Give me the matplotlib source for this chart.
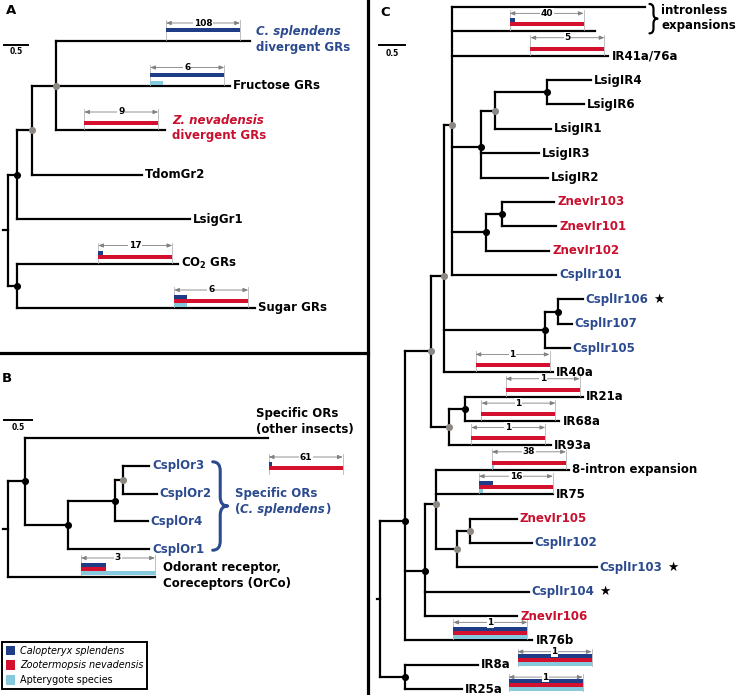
import matplotlib
matplotlib.use("Agg")
import matplotlib.pyplot as plt
from matplotlib.collections import LineCollection
from matplotlib.lines import Line2D
from matplotlib.patches import Patch, PathPatch
from matplotlib.path import Path

# colours
SP_BLUE = "#1f3d87"
SP_RED = "#d3102d"
SP_CYAN = "#86c8dc"
TXT_BLUE = "#2b4a8f"
TXT_RED = "#c9102f"
NODE_GREY = "#8d8782"

species = ["Calopteryx splendens", "Zootermopsis nevadensis", "Apterygote species"]
species_colours = [SP_BLUE, SP_RED, SP_CYAN]

# ---------------- data ----------------
# trees: (name, branch length, [children]) ; leaves: (name, branch length)
tree_a = ("root", 0.10, [
    ("n1", 0.17, [
        ("n2", 0.29, [
            ("n3", 0.46, [
                ("cspl_div", 3.73),
                ("fructose", 3.35),
                ("znev_div", 2.10)]),
            ("TdomGr2", 2.12)]),
        ("LsigGr1", 3.33)]),
    ("n4", 0.17, [
        ("co2", 3.10),
        ("sugar", 4.58)])])

tree_b = ("root", 0.08, [
    ("b1", 0.28, [
        ("other", 3.98),
        ("b2", 0.70, [
            ("b3", 0.77, [
                ("b4", 0.13, [("CsplOr3", 0.44), ("CsplOr2", 0.56)]),
                ("CsplOr4", 0.54)]),
            ("CsplOr1", 1.34)])]),
    ("OrCo", 2.41)])

tree_c = ("root", 0.05, [
    ("ca", 0.45, [
        ("r", 0.47, [
            ("q", 0.235, [
                ("p", 0.16, [
                    ("intronless1", 3.49),
                    ("intronless2", 2.57),
                    ("IR41a/76a", 2.82),
                    ("l1", 0.52, [
                        ("l2", 0.25, [
                            ("l3", 0.94, [("LsigIR4", 0.80), ("LsigIR6", 0.67)]),
                            ("LsigIR1", 1.01)]),
                        ("LsigIR3", 1.05),
                        ("LsigIR2", 1.21)]),
                    ("z1", 0.61, [
                        ("z2", 0.29, [("ZnevIr103", 0.94), ("ZnevIr101", 0.98)]),
                        ("ZnevIr102", 1.14)]),
                    ("CsplIr101", 1.88)]),
                ("c1", 1.83, [
                    ("c2", 0.235, [("CsplIr106", 0.45), ("CsplIr107", 0.25)]),
                    ("CsplIr105", 0.45)]),
                ("IR40a", 1.97)]),
            ("s1", 0.34, [
                ("s2", 0.29, [("IR21a", 2.12), ("IR68a", 1.70)]),
                ("IR93a", 1.84)])]),
        ("t0", 0.36, [
            ("t1", 0.20, [
                ("8-intron", 2.41),
                ("IR75", 2.12),
                ("t2", 0.38, [
                    ("t3", 0.235, [("ZnevIr105", 0.85), ("CsplIr102", 1.12)]),
                    ("CsplIr103", 2.53)])]),
            ("CsplIr104", 1.88),
            ("ZnevIr106", 1.68)]),
        ("IR76b", 2.31)]),
    ("d", 0.45, [("IR8a", 1.32), ("IR25a", 1.03)])])

# node support dots: k = black, g = grey
dots_a = {"n1": "k", "n2": "g", "n3": "g", "n4": "k"}
dots_b = {"b1": "k", "b2": "k", "b3": "k", "b4": "g"}
dots_c = {"p": "g", "l1": "k", "l2": "g", "l3": "k", "z1": "k", "z2": "k",
          "c1": "k", "c2": "k", "q": "g", "r": "g", "s1": "g", "s2": "k",
          "t0": "k", "t1": "g", "t2": "g", "t3": "g", "ca": "k", "d": "k"}

labels_a = {"fructose": "Fructose GRs", "TdomGr2": "TdomGr2", "LsigGr1": "LsigGr1",
            "co2": r"CO$_\mathbf{2}$ GRs", "sugar": "Sugar GRs"}
labels_b = {"CsplOr3": "CsplOr3", "CsplOr2": "CsplOr2", "CsplOr4": "CsplOr4",
            "CsplOr1": "CsplOr1"}
labels_c = {n: n for n in ["IR41a/76a", "LsigIR4", "LsigIR6", "LsigIR1", "LsigIR3",
                           "LsigIR2", "ZnevIr103", "ZnevIr101", "ZnevIr102", "CsplIr101",
                           "CsplIr106", "CsplIr107", "CsplIr105", "IR40a", "IR21a",
                           "IR68a", "IR93a", "IR75", "ZnevIr105", "CsplIr102",
                           "CsplIr103", "CsplIr104", "ZnevIr106", "IR76b", "IR8a", "IR25a"]}
labels_c["8-intron"] = "8-intron expansion"
star_leaves = ["CsplIr106", "CsplIr103", "CsplIr104"]

# gene counts per species (C. splendens, Z. nevadensis, apterygotes)
bar_leaves_a = ["cspl_div", "fructose", "znev_div", "co2", "sugar"]
bar_counts_a = [(108, 0, 0), (6, 0, 1), (0, 9, 0), (1, 17, 0), (1, 6, 1)]
bar_leaves_b = ["other", "OrCo"]
bar_counts_b = [(3, 61, 0), (1, 1, 3)]
bar_leaves_c = ["intronless2", "IR41a/76a", "IR40a", "IR21a", "IR68a", "IR93a",
                "8-intron", "IR75", "IR76b", "IR8a", "IR25a"]
bar_counts_c = [(3, 40, 0), (0, 5, 0), (0, 1, 0), (0, 1, 0), (0, 1, 0), (0, 1, 0),
                (0, 38, 1), (3, 16, 1), (1, 1, 1), (1, 1, 1), (1, 1, 1)]

# layout of the bars (pixel shift of the right end from the tip, vertical shift,
# gap between the bars and the dimension line)
bar_shift_a = [(-10, 0, 18), (-6, 0, 18), (-7, 0, 18), (-6, 0, 18), (-7, 0, 18)]
bar_shift_b = [(75, 37, 18), (0, -1, 18)]
bar_shift_c = [(-11, 0, 18), (-4, 0, 18), (-3, 0, 18), (-3, 0, 18), (-4, 0, 18),
               (-6, 0, 18), (-3, 0, 18), (0, 0, 18), (-5, 0, 18), (114, 2, 15),
               (121, 3, 15)]

# ---------------- drawing ----------------
W, H = 738, 695
fig = plt.figure(figsize=(W / 100, H / 100), dpi=100)
BAR_PX = 74


def walk(node, x0, leaves, segs, pos):
    name, bl = node[0], node[1]
    x = x0 + bl
    if len(node) == 2:
        y = float(len(leaves))
        leaves.append(name)
    else:
        ys = [walk(c, x, leaves, segs, pos) for c in node[2]]
        y = sum(ys) / len(ys)
        segs.append([(x, ys[0]), (x, ys[-1])])
    segs.append([(x0, y), (x, y)])
    pos[name] = (x, y)
    return y


def make_panel(box, sx, sy, root_px, y0_px, tree, dots):
    x0, y0, x1, y1 = box
    ax = fig.add_axes([x0 / W, 1 - y1 / H, (x1 - x0) / W, (y1 - y0) / H])
    ax.set_xlim((x0 - root_px) / sx, (x1 - root_px) / sx)
    ax.set_ylim((y1 - y0_px) / sy, (y0 - y0_px) / sy)
    ax.axis("off")
    leaves, segs, pos = [], [], {}
    walk(tree, 0.0, leaves, segs, pos)
    ax.add_collection(LineCollection(segs, colors="black", linewidths=1.6,
                                     capstyle="projecting"))
    for name, c in dots.items():
        ax.scatter([pos[name][0]], [pos[name][1]], s=26, zorder=4, linewidths=0,
                   color="black" if c == "k" else NODE_GREY)
    ax.sx, ax.sy = sx, sy
    return ax, pos


def at(ax, p, dx=0, dy=0):
    return p[0] + dx / ax.sx, p[1] + dy / ax.sy


def leaf_colour(name):
    if name.startswith("Znev"):
        return TXT_RED
    if name.startswith("Cspl"):
        return TXT_BLUE
    return "black"


def put_labels(ax, pos, labels, fs=8.5):
    arts = {}
    for leaf, txt in labels.items():
        x, y = at(ax, pos[leaf], 3)
        arts[leaf] = ax.text(x, y, txt, ha="left", va="center", fontsize=fs,
                             fontweight="bold", color=leaf_colour(leaf))
    return arts


def count_bars(ax, pos, leaves, counts, shifts):
    for leaf, cnt, (dx, dy, gap) in zip(leaves, counts, shifts):
        right, yb = at(ax, pos[leaf], dx, dy)
        width = BAR_PX / ax.sx
        left = right - width
        n = max(cnt)
        for c, col, off in zip(cnt, species_colours, (-11, -7, -3)):
            if c:
                ax.barh(yb + off / ax.sy, width * c / n, left=left, height=4 / ax.sy,
                        color=col, linewidth=0, zorder=3)
        yl = yb - gap / ax.sy
        for xe in (left, right):
            ax.plot([xe, xe], [yl - 3 / ax.sy, yb - 1 / ax.sy], color="#b4b4b4",
                    lw=0.6, zorder=2)
        ax.annotate("", xy=(right, yl), xytext=(left, yl),
                    arrowprops=dict(arrowstyle="<|-|>,head_length=0.3,head_width=0.12",
                                    color="#808080", lw=0.6, shrinkA=0, shrinkB=0))
        ax.text((left + right) / 2, yl, str(n), ha="center", va="center",
                fontsize=6.5, fontweight="bold",
                bbox=dict(facecolor="white", edgecolor="none", pad=0.5))


def brace(ax, x, ya, yb, w, r, colour, lw):
    ym = (ya + yb) / 2
    xm = x + w / 2
    verts = [(x, ya), (xm, ya), (xm, ya + r), (xm, ym - r), (xm, ym), (x + w, ym),
             (xm, ym), (xm, ym + r), (xm, yb - r), (xm, yb), (x, yb)]
    codes = [Path.MOVETO, Path.CURVE3, Path.CURVE3, Path.LINETO, Path.CURVE3,
             Path.CURVE3, Path.CURVE3, Path.CURVE3, Path.LINETO, Path.CURVE3, Path.CURVE3]
    ax.add_patch(PathPatch(Path(verts, codes), fill=False, edgecolor=colour, lw=lw,
                           capstyle="round", joinstyle="round"))


def scale_bar(ax, x0, y, dy_text):
    ax.plot([x0, x0 + 0.5], [y, y], color="black", lw=1.4, solid_capstyle="butt")
    ax.text(x0 + 0.25, y + dy_text / ax.sy, "0.5", ha="center", va="center",
            fontsize=5.5, fontweight="bold")


# ----- panel A -----
ax_a, pos_a = make_panel((0, 0, 369, 353), 52.0, 44.5, 3, 41, tree_a, dots_a)
put_labels(ax_a, pos_a, labels_a)
count_bars(ax_a, pos_a, bar_leaves_a, bar_counts_a, bar_shift_a)
ax_a.text(*at(ax_a, pos_a["cspl_div"], 6, -9), "C. splendens", style="italic",
          fontweight="bold", color=TXT_BLUE, fontsize=8.5, va="center")
ax_a.text(*at(ax_a, pos_a["cspl_div"], 6, 6), "divergent GRs",
          fontweight="bold", color=TXT_BLUE, fontsize=8.5, va="center")
ax_a.text(*at(ax_a, pos_a["znev_div"], 7, -9), "Z. nevadensis", style="italic",
          fontweight="bold", color=TXT_RED, fontsize=8.5, va="center")
ax_a.text(*at(ax_a, pos_a["znev_div"], 7, 6), "divergent GRs",
          fontweight="bold", color=TXT_RED, fontsize=8.5, va="center")
scale_bar(ax_a, 0.0, 4 / 44.5, 7)

# ----- panel B -----
ax_b, pos_b = make_panel((0, 353, 369, 695), 61.0, 27.8, 3, 438, tree_b, dots_b)
put_labels(ax_b, pos_b, labels_b)
count_bars(ax_b, pos_b, bar_leaves_b, bar_counts_b, bar_shift_b)
ax_b.text(*at(ax_b, pos_b["other"], -12, -24), "Specific ORs",
          fontweight="bold", fontsize=8.5, va="center")
ax_b.text(*at(ax_b, pos_b["other"], -12, -9), "(other insects)",
          fontweight="bold", fontsize=8.5, va="center")
ax_b.text(*at(ax_b, pos_b["OrCo"], 8, -9), "Odorant receptor,",
          fontweight="bold", fontsize=8.5, va="center")
ax_b.text(*at(ax_b, pos_b["OrCo"], 8, 7), "Coreceptors (OrCo)",
          fontweight="bold", fontsize=8.5, va="center")
bx, by_top = at(ax_b, pos_b["CsplOr2"], 56, 0)
brace(ax_b, bx, pos_b["CsplOr3"][1] - 4 / 27.8, pos_b["CsplOr1"][1] + 1 / 27.8,
      15 / 61.0, 9 / 27.8, TXT_BLUE, 2.2)
sx_, sy_ = at(ax_b, (bx, pos_b["b3"][1]), 22, -7)
t1 = ax_b.text(sx_, sy_, "Specific ORs", fontweight="bold", color=TXT_BLUE,
               fontsize=8.5, va="center")
t2 = ax_b.text(sx_, sy_ + 16 / 27.8, "(", fontweight="bold", color=TXT_BLUE,
               fontsize=8.5, va="center")
t3 = ax_b.annotate("C. splendens", xy=(1, 0), xycoords=t2, va="bottom", ha="left",
                   style="italic", fontweight="bold", color=TXT_BLUE, fontsize=8.5)
ax_b.annotate(")", xy=(1, 0), xycoords=t3, va="bottom", ha="left",
              fontweight="bold", color=TXT_BLUE, fontsize=8.5)
scale_bar(ax_b, 0.0, -18 / 27.8, 7)
leg = ax_b.legend(handles=[Patch(facecolor=c, edgecolor="none") for c in species_colours],
                  labels=species, loc="lower left", bbox_to_anchor=(2 / 369, 6 / 342),
                  borderaxespad=0, fontsize=6.9, handlelength=1.0, handleheight=1.15,
                  handletextpad=0.5, labelspacing=0.5, borderpad=0.4,
                  fancybox=False, edgecolor="black", framealpha=1)
leg.get_frame().set_linewidth(1.4)
for t in leg.get_texts()[:2]:
    t.set_style("italic")

# ----- panel C -----
ax_c, pos_c = make_panel((369, 0, 738, 695), 55.3, 24.36, 377, 7, tree_c, dots_c)
arts_c = put_labels(ax_c, pos_c, labels_c)
for leaf in star_leaves:
    ax_c.annotate("\u2605", xy=(1, 0.5), xycoords=arts_c[leaf], xytext=(5, 0),
                  textcoords="offset pixels", va="center", ha="left", fontsize=9)
count_bars(ax_c, pos_c, bar_leaves_c, bar_counts_c, bar_shift_c)
bx, by = at(ax_c, pos_c["intronless1"], 4, -3)
brace(ax_c, bx, by, pos_c["intronless2"][1] + 2 / 24.36, 8 / 55.3, 5 / 24.36,
      "black", 1.6)
ax_c.text(*at(ax_c, pos_c["intronless1"], 16, 4), "intronless",
          fontweight="bold", fontsize=8.5, va="center")
ax_c.text(*at(ax_c, pos_c["intronless1"], 16, 19), "expansions",
          fontweight="bold", fontsize=8.5, va="center")
scale_bar(ax_c, 1 / 55.3, 38 / 24.36, 8)

# panel letters and separators
for letter, (px, py) in {"A": (11, 10), "B": (7, 379), "C": (385, 13)}.items():
    fig.text(px / W, 1 - py / H, letter, ha="center", va="center",
             fontsize=9.5, fontweight="bold")
fig.add_artist(Line2D([368 / W, 368 / W], [0, 1], color="black", lw=2.3))
fig.add_artist(Line2D([0, 368 / W], [1 - 353 / H, 1 - 353 / H], color="black", lw=2.3))

fig.savefig("out.png", dpi=100, facecolor="white")
